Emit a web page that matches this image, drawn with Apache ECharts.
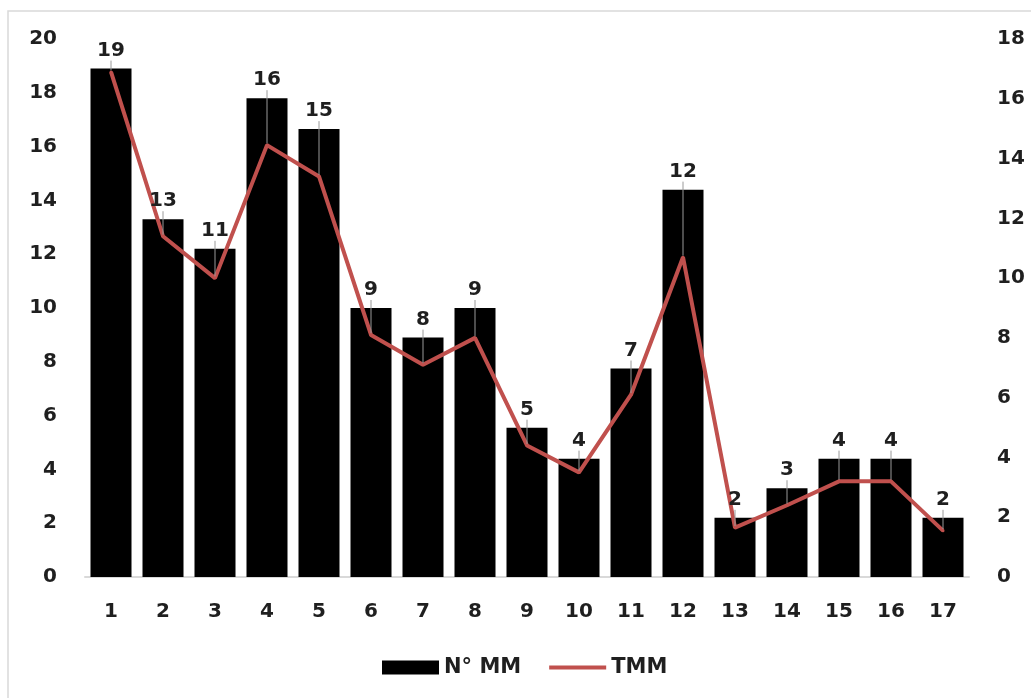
<!DOCTYPE html>
<html><head><meta charset="utf-8">
<script src="https://cdn.jsdelivr.net/npm/echarts@6/dist/echarts.min.js"></script>
<style>html,body{margin:0;padding:0;background:#fff}#c{width:1031px;height:698px}</style>
</head><body><div id="c"></div>
<script>
const categories = ['1','2','3','4','5','6','7','8','9','10','11','12','13','14','15','16','17'];
const nMM = [18.9, 13.3, 12.2, 17.8, 16.65, 10.0, 8.9, 10.0, 5.55, 4.4, 7.75, 14.4, 2.2, 3.3, 4.4, 4.4, 2.2];
const tMM = [16.9, 11.4, 10.0, 14.45, 13.4, 8.1, 7.1, 8.0, 4.4, 3.5, 6.1, 10.7, 1.65, 2.4, 3.2, 3.2, 1.55];
const dataLabels = ['19','13','11','16','15','9','8','9','5','4','7','12','2','3','4','4','2'];
const seriesNames = ['N° MM', 'TMM'];

const FONT = 'DejaVu Sans';
const TXT = '#1f1f1f';
const chart = echarts.init(document.getElementById('c'), null, {renderer: 'canvas'});

const option = {
  backgroundColor: '#ffffff',
  animation: false,
  graphic: [{
    type: 'rect', z: -10, silent: true,
    shape: {x: 8, y: 11, width: 1060, height: 720},
    style: {fill: 'none', stroke: '#d9d9d9', lineWidth: 1.5}
  }],
  grid: {left: 85, right: 62, top: 39, bottom: 121, containLabel: false},
  legend: {
    left: 377, top: 652,
    itemWidth: 57, itemHeight: 14, itemGap: 28,
    textStyle: {fontFamily: FONT, fontWeight: 'bold', fontSize: 21, color: TXT},
    data: [
      {name: seriesNames[0], icon: 'rect'},
      {name: seriesNames[1], icon: 'path://M0,0 L60,0 L60,4 L0,4 Z'}
    ]
  },
  xAxis: {
    type: 'category', data: categories, boundaryGap: true,
    axisLine: {show: true, lineStyle: {color: '#d9d9d9', width: 2}},
    axisTick: {show: false},
    axisLabel: {margin: 25, fontFamily: FONT, fontWeight: 'bold', fontSize: 20, color: TXT},
    splitLine: {show: false}
  },
  yAxis: [{
    type: 'value', min: 0, max: 20, interval: 2, position: 'left',
    axisLine: {show: false}, axisTick: {show: false}, splitLine: {show: false},
    axisLabel: {margin: 28, fontFamily: FONT, fontWeight: 'bold', fontSize: 20, color: TXT}
  }, {
    type: 'value', min: 0, max: 18, interval: 2, position: 'right',
    axisLine: {show: false}, axisTick: {show: false}, splitLine: {show: false},
    axisLabel: {margin: 28, fontFamily: FONT, fontWeight: 'bold', fontSize: 20, color: TXT}
  }],
  series: [{
    name: seriesNames[0], type: 'bar', yAxisIndex: 0,
    data: nMM, barWidth: 41,
    itemStyle: {color: '#000000'}
  }, {
    name: seriesNames[1], type: 'line', yAxisIndex: 1,
    data: tMM,
    symbol: 'circle', symbolSize: 3, showSymbol: true,
    lineStyle: {color: '#C0504D', width: 4},
    itemStyle: {color: '#C0504D'},
    label: {
      show: true, position: 'top',
      fontFamily: FONT, fontWeight: 'bold', fontSize: 20, color: TXT,
      formatter: p => dataLabels[p.dataIndex]
    },
    labelLine: {show: true, lineStyle: {color: '#9a9a9a', width: 1}},
    labelLayout: function (params) {
      const i = params.dataIndex;
      let y;
      try {
        y = chart.convertToPixel({gridIndex: 0}, [i, nMM[i]])[1];
      } catch (e) {
        y = 39 + (577 - 39) * (1 - nMM[i] / 20);
      }
      return {
        x: params.rect.x + params.rect.width / 2,
        y: y - 18,
        align: 'center',
        verticalAlign: 'middle'
      };
    }
  }]
};
chart.setOption(option);
</script>
</body></html>
